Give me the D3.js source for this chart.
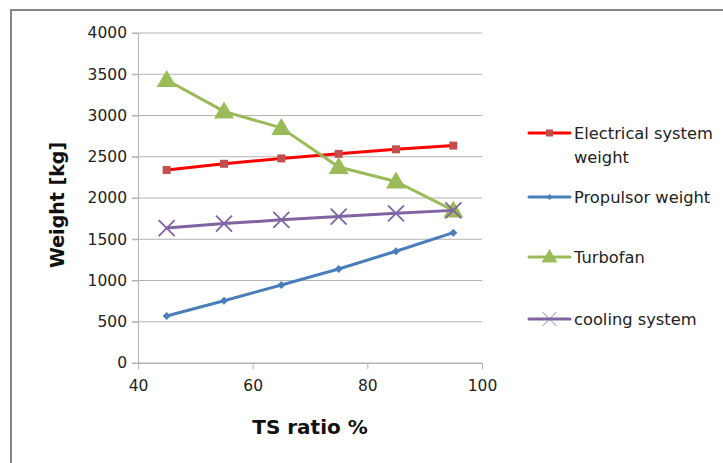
<!DOCTYPE html>
<html>
<head>
<meta charset="utf-8">
<script src="https://cdn.jsdelivr.net/npm/d3@7"></script>
<style>
  body { margin: 0; background: #fff; }
  svg { display: block; font-family: "DejaVu Sans", sans-serif; }
</style>
</head>
<body>
<svg id="chart" width="723" height="463"></svg>
<script>
// chart data
const tsRatio = [45, 55, 65, 75, 85, 95];
const electrical = [2340, 2415, 2480, 2535, 2590, 2635];
const propulsor = [570, 755, 945, 1140, 1355, 1580];
const turbofan = [3430, 3050, 2850, 2375, 2200, 1850];
const cooling = [1635, 1690, 1735, 1775, 1815, 1850];
const xTicks = [40, 60, 80, 100];
const yTicks = [0, 500, 1000, 1500, 2000, 2500, 3000, 3500, 4000];

const series = [
  { name: ['Electrical system', 'weight'], values: electrical, line: '#ff0000', marker: 'square', fill: '#c0504d', ly: 133 },
  { name: ['Propulsor weight'], values: propulsor, line: '#4a7ebb', marker: 'diamond', fill: '#4a7ebb', ly: 197 },
  { name: ['Turbofan'], values: turbofan, line: '#9bbb59', marker: 'triangle', fill: '#9bbb59', ly: 257 },
  { name: ['cooling system'], values: cooling, line: '#8064a2', marker: 'cross', fill: '#8064a2', ly: 319 },
];

const svg = d3.select('#chart');

// outer frame
svg.append('rect')
  .attr('x', 11).attr('y', 10)
  .attr('width', 730).attr('height', 470)
  .attr('fill', 'none')
  .attr('stroke', '#868686')
  .attr('stroke-width', 2);

const x = d3.scaleLinear().domain([40, 100]).range([138, 482]);
const y = d3.scaleLinear().domain([0, 4000]).range([363, 33]);

// grid
svg.append('g')
  .selectAll('line')
  .data(yTicks)
  .join('line')
  .attr('x1', 132).attr('x2', 482)
  .attr('y1', d => y(d)).attr('y2', d => y(d))
  .attr('stroke', '#b3b3b3');

// y axis
const yAxis = svg.append('g')
  .attr('transform', 'translate(138,0)')
  .call(d3.axisLeft(y).tickValues(yTicks).tickSize(6).tickPadding(5).tickFormat(d3.format('d')));
yAxis.select('.domain').attr('stroke', '#b3b3b3');
yAxis.selectAll('.tick line').attr('stroke', '#b3b3b3');
yAxis.selectAll('text').attr('font-size', 15.5).attr('fill', '#222').attr('font-family', 'DejaVu Sans');

// x axis
const xAxis = svg.append('g')
  .attr('transform', 'translate(0,363)')
  .call(d3.axisBottom(x).tickValues(xTicks).tickSize(6).tickPadding(11));
xAxis.select('.domain').attr('stroke', '#b3b3b3');
xAxis.selectAll('.tick line').attr('stroke', '#b3b3b3');
xAxis.selectAll('text').attr('font-size', 15.5).attr('fill', '#222').attr('font-family', 'DejaVu Sans');

// axis titles
svg.append('text')
  .attr('x', 310).attr('y', 434)
  .attr('text-anchor', 'middle')
  .attr('font-size', 20).attr('font-weight', 'bold').attr('fill', '#111')
  .text('TS ratio %');

svg.append('text')
  .attr('transform', 'translate(64,205) rotate(-90)')
  .attr('text-anchor', 'middle')
  .attr('font-size', 19).attr('font-weight', 'bold').attr('fill', '#111')
  .text('Weight [kg]');

function drawMarker(g, s, cx, cy, big) {
  if (s.marker === 'square') {
    const r = big ? 4 : 3.5;
    g.append('rect').attr('x', cx - r).attr('y', cy - r).attr('width', 2 * r).attr('height', 2 * r)
      .attr('fill', s.fill);
  } else if (s.marker === 'diamond') {
    const r = big ? 4 : 3;
    g.append('path').attr('d', `M${cx},${cy - r}L${cx + r},${cy}L${cx},${cy + r}L${cx - r},${cy}Z`)
      .attr('fill', s.fill);
  } else if (s.marker === 'triangle') {
    const r = big ? 10 : 8;
    g.append('path').attr('d', `M${cx},${cy - r}L${cx + r},${cy + r * 0.7}L${cx - r},${cy + r * 0.7}Z`)
      .attr('fill', s.fill);
  } else {
    const r = big ? 8 : 7;
    g.append('path').attr('d', `M${cx - r},${cy - r}L${cx + r},${cy + r}M${cx - r},${cy + r}L${cx + r},${cy - r}`)
      .attr('stroke', s.fill).attr('stroke-width', big ? 1.8 : 0.8).attr('fill', 'none');
  }
}

const line = d3.line().x(d => x(d[0])).y(d => y(d[1]));

series.forEach((s) => {
  const pts = tsRatio.map((t, i) => [t, s.values[i]]);
  const g = svg.append('g');
  g.append('path')
    .datum(pts)
    .attr('d', line)
    .attr('fill', 'none')
    .attr('stroke', s.line)
    .attr('stroke-width', 3)
    .attr('stroke-linejoin', 'round');
  pts.forEach(p => drawMarker(g, s, x(p[0]), y(p[1]), true));

  // legend entry
  const lg = svg.append('g');
  lg.append('line')
    .attr('x1', 529).attr('x2', 570)
    .attr('y1', s.ly).attr('y2', s.ly)
    .attr('stroke', s.line).attr('stroke-width', 3).attr('stroke-linecap', 'round');
  drawMarker(lg, s, 549.5, s.ly, false);
  s.name.forEach((t, i) => {
    lg.append('text')
      .attr('x', 574).attr('y', s.ly + 6 + i * 24)
      .attr('font-size', 16.3).attr('fill', '#222')
      .text(t);
  });
});
</script>
</body>
</html>
